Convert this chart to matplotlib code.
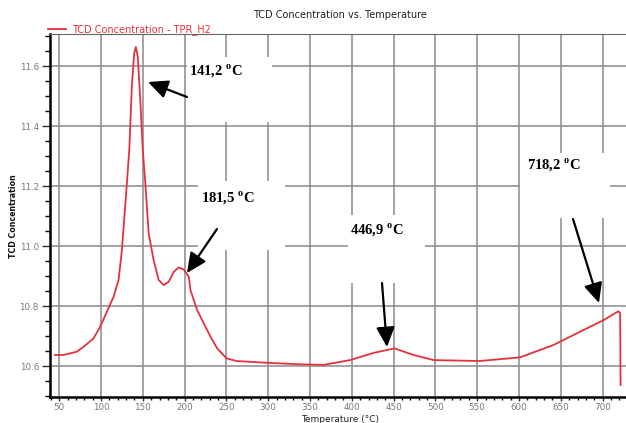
import matplotlib.pyplot as plt
from matplotlib.patches import Rectangle
from matplotlib.ticker import MultipleLocator

plt.rcParams['mathtext.fontset'] = 'custom'
plt.rcParams['mathtext.rm'] = 'Liberation Serif:bold'

# temperature (°C) and TCD signal
temp = [45, 55, 71, 79, 91, 99, 107, 115, 121, 125, 131, 134, 137, 139.7, 141.7,
        144, 147, 150, 153, 157, 163, 169, 175, 181, 187, 193, 199, 205, 207,
        215, 223, 231, 239, 250, 262, 298, 338, 366, 398, 426, 451, 474, 498,
        553, 601, 641, 677, 701, 719, 721, 721.5]
tcd = [10.637, 10.637, 10.648, 10.664, 10.692, 10.731, 10.781, 10.831, 10.887,
       10.987, 11.21, 11.33, 11.54, 11.643, 11.664, 11.631, 11.487, 11.32, 11.21,
       11.043, 10.953, 10.887, 10.87, 10.881, 10.914, 10.929, 10.922, 10.898,
       10.853, 10.787, 10.742, 10.698, 10.659, 10.626, 10.617, 10.611, 10.606,
       10.604, 10.62, 10.644, 10.659, 10.637, 10.62, 10.617, 10.629, 10.67,
       10.72, 10.753, 10.783, 10.776, 10.537]

xticks = list(range(50, 701, 50))
yticks = [10.6, 10.8, 11.0, 11.2, 11.4, 11.6]

labels = ['141,2 $^{\\rm o}$C', '181,5 $^{\\rm o}$C', '446,9 $^{\\rm o}$C', '718,2 $^{\\rm o}$C']

W, H = 626, 423
fig = plt.figure(figsize=(W / 100, H / 100), dpi=100)
ax = fig.add_axes([50 / W, 1 - 397 / H, 576 / W, 363 / H])


def fp(x, y):
    # pixel position (from top left) -> figure fraction
    return (x / W, 1 - y / H)


ax.plot(temp, tcd, color='#e5323a', lw=1.3, label='TCD Concentration - TPR_H2', zorder=3)

ax.set_xlim(39, 728)
ax.set_ylim(10.497, 11.707)
ax.set_xticks(xticks)
ax.set_yticks(yticks)
ax.set_yticklabels([f'{v:.1f}' for v in yticks])
ax.xaxis.set_minor_locator(MultipleLocator(10))
ax.yaxis.set_minor_locator(MultipleLocator(0.05))
ax.tick_params(axis='both', labelsize=6.3, labelcolor='#777777', color='#333333')
ax.tick_params(axis='y', which='major', length=6, width=1, pad=2)
ax.tick_params(axis='y', which='minor', length=3.5, width=1)
ax.tick_params(axis='x', which='major', length=3, width=1, pad=1.5)
ax.tick_params(axis='x', which='minor', length=2, width=1)

ax.set_axisbelow(True)
ax.grid(True, which='major', color='#8a8a8a', lw=1.1)
ax.spines['right'].set_visible(False)
ax.spines['top'].set_color('#666666')
ax.spines['left'].set_linewidth(1.8)
ax.spines['bottom'].set_linewidth(1.8)

ax.legend(loc='center left', bbox_to_anchor=fp(48, 30), bbox_transform=fig.transFigure,
          frameon=False, fontsize=7, labelcolor='#e5323a', handlelength=1.9,
          handletextpad=0.6, borderpad=0, borderaxespad=0)

fig.text(*fp(340, 15), 'TCD Concentration vs. Temperature', ha='center', va='center',
         fontsize=7, color='#222222')
fig.text(*fp(340, 419), 'Temperature (°C)', ha='center', va='center', fontsize=6.5,
         color='#222222')
fig.text(*fp(14, 216), 'TCD Concentration', ha='center', va='center', rotation=90,
         fontsize=6.3, color='#111111', fontweight='bold', fontstretch='condensed')

# white boxes pasted over the grid, with labels and arrows
boxes = [(187, 57, 272, 122), (198, 181, 285, 250), (348, 215, 425, 283), (520, 153, 610, 218)]
for x0, y0, x1, y1 in boxes:
    ax.add_patch(Rectangle(fp(x0, y1), (x1 - x0) / W, (y1 - y0) / H,
                           transform=fig.transFigure, facecolor='white',
                           edgecolor='none', zorder=1))

text_pos = [(189, 71), (201, 198), (350, 230), (527, 165)]
for (x, y), s in zip(text_pos, labels):
    fig.text(*fp(x, y), s, ha='left', va='center', fontsize=10.5,
             family='Liberation Serif', fontweight='bold', color='black')

arrows = [((187, 97), (148, 82)), ((217, 229), (187, 273)),
          ((382, 283), (387, 347)), ((573, 219), (599, 303))]
for tail, head in arrows:
    ax.annotate('', xy=fp(*head), xytext=fp(*tail), xycoords='figure fraction',
                textcoords='figure fraction',
                arrowprops=dict(arrowstyle='-|>,head_length=0.6,head_width=0.28',
                                mutation_scale=20, lw=1.6, color='black',
                                shrinkA=0, shrinkB=0), zorder=5)

fig.savefig('out.png', dpi=100)
